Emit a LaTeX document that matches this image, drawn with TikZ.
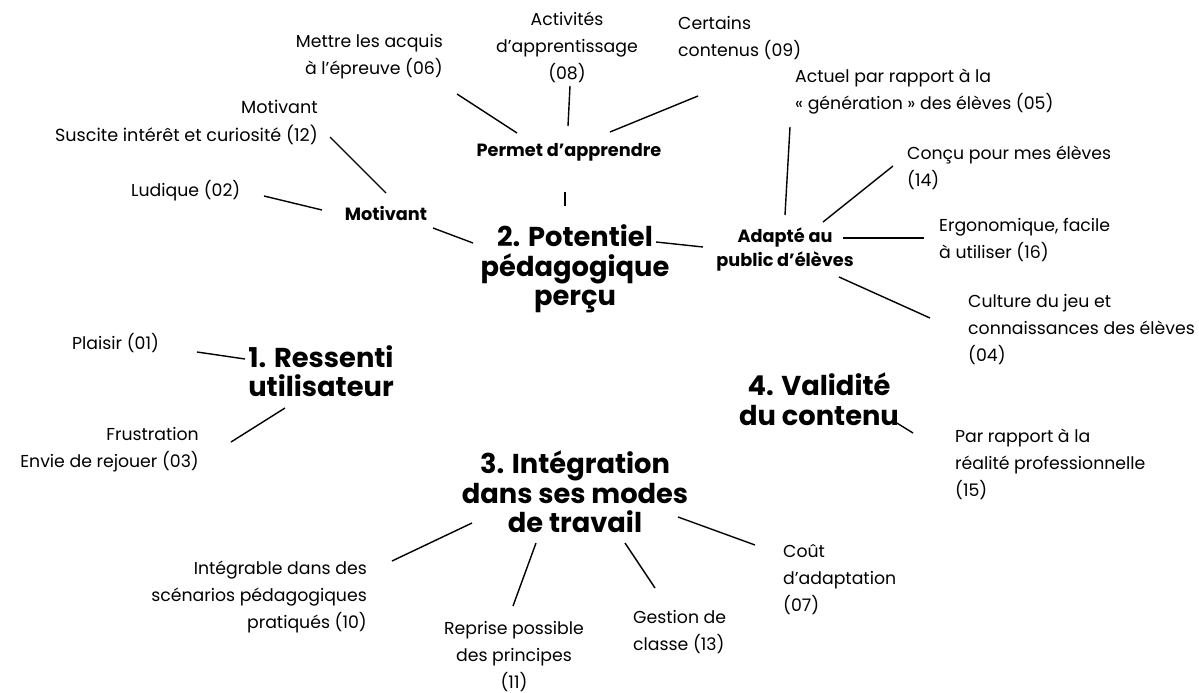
\documentclass[tikz,border=0pt]{standalone}
\usepackage{fontspec}
\setmainfont{Poppins}
\begin{document}
\begin{tikzpicture}[x=1pt,y=-1pt,
  lbl/.style={inner sep=0pt,font=\fontsize{17.3}{27}\selectfont},
  lblc/.style={inner sep=0pt,font=\fontsize{17.6}{28}\selectfont},
  sub/.style={inner sep=0pt,align=center,font=\fontsize{17.7}{24}\selectfont\bfseries},
  main/.style={inner sep=0pt,align=center,font=\fontsize{27.3}{29.5}\selectfont\bfseries},
  link/.style={line width=1.4pt,black}]
\useasboundingbox (0,0) rectangle (1199,693);
% central themes
\node[main] (pot) at (575,269) {2. Potentiel\\pédagogique\\perçu};
\node[main] (ressenti) at (321,371) {1. Ressenti\\utilisateur};
\node[main] (valid) at (819,399) {4. Validité\\du contenu};
\node[main] (integ) at (575,492) {3. Intégration\\dans ses modes\\de travail};
% sub themes
\node[sub] (permet) at (569,152) {Permet d’apprendre};
\node[sub] (motivB) at (386,213) {Motivant};
\node[sub] (adapte) at (785,249) {Adapté au\\public d’élèves};
% leaves
\node[lbl,align=center] (act08) at (567,47) {Activités\\d’apprentissage\\(08)};
\node[lbl,align=right,anchor=east] (mettre06) at (443,57) {Mettre les acquis\\à l’épreuve (06)};
\node[lbl,align=left,anchor=west] (cert09) at (678,38) {Certains\\contenus (09)};
\node[lbl,align=left,anchor=west] (actuel05) at (795,92) {Actuel par rapport à la\\« génération » des élèves (05)};
\node[lblc,align=right,anchor=east] (motiv12) at (318,122) {Motivant\\Suscite intérêt et curiosité (12)};
\node[lbl,anchor=west] (lud02) at (131,191) {Ludique (02)};
\node[lbl,align=left,anchor=west] (concu14) at (907,168) {Conçu pour mes élèves\\(14)};
\node[lbl,align=left,anchor=west] (ergo16) at (939,240) {Ergonomique, facile\\à utiliser (16)};
\node[lbl,align=left,anchor=west] (cult04) at (968,330) {Culture du jeu et\\connaissances des élèves\\(04)};
\node[lbl,anchor=west] (plaisir) at (72,343) {Plaisir (01)};
\node[lbl,align=right,anchor=east] (frust03) at (199,450) {Frustration\\Envie de rejouer (03)};
\node[lbl,align=left,anchor=west] (par15) at (955,464) {Par rapport à la\\réalité professionnelle\\(15)};
\node[lbl,align=right,anchor=east] (integ10) at (367,597) {Intégrable dans des\\scénarios pédagogiques\\pratiqués (10)};
\node[lbl,align=center] (reprise11) at (514,657) {Reprise possible\\des principes\\(11)};
\node[lbl,align=left,anchor=west] (gestion13) at (633,632) {Gestion de\\classe (13)};
\node[lbl,align=left,anchor=west] (cout07) at (783,580) {Coût\\d’adaptation\\(07)};
% connectors
\draw[link] ([shift={(3,39)}]act08.center) -- ([shift={(-1,-26)}]permet.center);
\draw[link] ([shift={(14,37)}]mettre06.east) -- ([shift={(-52,-19)}]permet.center);
\draw[link] ([shift={(20,58)}]cert09.west) -- ([shift={(41,-20)}]permet.center);
\draw[link] ([shift={(-4,40)}]permet.center) -- ([shift={(-10,-63)}]pot.center);
\draw[link] ([shift={(12,15)}]motiv12.east) -- ([shift={(0,-20)}]motivB.center);
\draw[link] ([shift={(133,5)}]lud02.west) -- ([shift={(-64,-3)}]motivB.center);
\draw[link] ([shift={(47,15)}]motivB.center) -- ([shift={(-102,-26)}]pot.center);
\draw[link] ([shift={(81,-27)}]pot.center) -- ([shift={(-82,-2)}]adapte.center);
\draw[link] ([shift={(-5,35)}]actuel05.west) -- ([shift={(0,-34)}]adapte.center);
\draw[link] ([shift={(-14,-2)}]concu14.west) -- ([shift={(38,-27)}]adapte.center);
\draw[link] ([shift={(-15,-2)}]ergo16.west) -- ([shift={(58,-11)}]adapte.center);
\draw[link] ([shift={(-38,-12)}]cult04.west) -- ([shift={(54,28)}]adapte.center);
\draw[link] ([shift={(125,9)}]plaisir.west) -- ([shift={(-76,-12)}]ressenti.center);
\draw[link] ([shift={(32,-8)}]frust03.east) -- ([shift={(-36,37)}]ressenti.center);
\draw[link] ([shift={(73,21)}]valid.center) -- ([shift={(-42,-31)}]par15.west);
\draw[link] ([shift={(-103,31)}]integ.center) -- ([shift={(25,-36)}]integ10.east);
\draw[link] ([shift={(-39,51)}]integ.center) -- ([shift={(-1,-51)}]reprise11.center);
\draw[link] ([shift={(50,51)}]integ.center) -- ([shift={(22,-44)}]gestion13.west);
\draw[link] ([shift={(103,25)}]integ.center) -- ([shift={(-28,-35)}]cout07.west);
\end{tikzpicture}
\end{document}
